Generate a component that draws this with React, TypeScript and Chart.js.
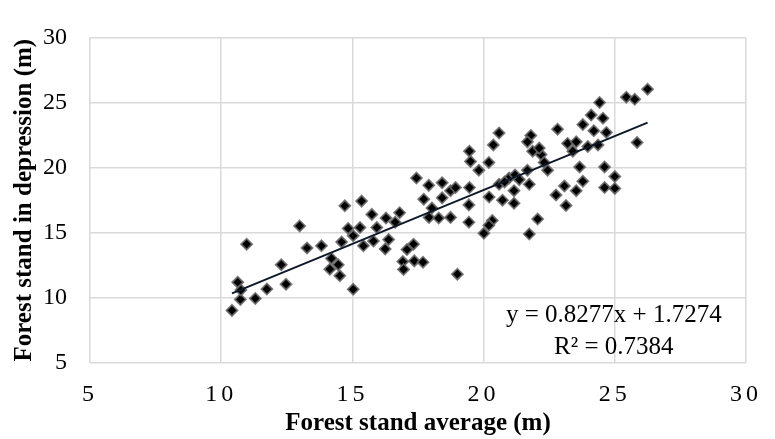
import React, { useEffect, useRef } from "react";
import { Chart, registerables } from "chart.js";

Chart.register(...registerables);

// Forest stand average height (m) — x values
const standAverage: number[] = [
  10.41, 10.63, 10.73, 10.75, 10.97, 11.3, 11.74, 12.29, 12.47, 12.99,
  13.27, 13.82, 14.59, 14.2, 14.46, 14.52, 14.14, 15.03, 14.71, 15.35,
  14.84, 15.29, 15.42, 15.74, 15.93, 15.8, 16.28, 16.38, 16.25, 16.63,
  16.8, 17.33, 17.08, 16.92, 16.95, 17.36, 17.69, 17.44, 17.91, 18.42,
  17.72, 18.03, 18.42, 17.92, 18.29, 18.74, 18.74, 19.0, 20.59, 20.37,
  19.46, 19.5, 19.82, 20.2, 18.93, 19.46, 19.44, 19.44, 20.21, 20.59,
  20.72, 21.16, 21.16, 20.97, 21.2, 21.67, 21.74, 20.33, 20.01, 20.2,
  21.74, 21.8, 21.87, 25.44, 25.76, 26.25, 25.85, 24.42, 24.1, 24.55,
  23.78, 24.2, 24.68, 22.82, 21.67, 22.19, 23.2, 23.53, 23.4, 23.97,
  24.36, 22.31, 22.44, 23.66, 24.61, 25.0, 23.78, 23.08, 22.76, 23.53,
  24.61, 25.0, 23.14, 22.06, 22.12, 21.36, 20.8, 15.03,
];

// Forest stand in depression height (m) — y values
const standDepression: number[] = [
  9.04, 11.2, 9.88, 10.6, 14.12, 9.96, 10.68, 12.55, 11.05, 15.52,
  13.83, 14.0, 14.29, 13.03, 12.55, 11.7, 12.2, 10.66, 17.07, 17.43,
  15.33, 15.4, 14.0, 16.41, 15.4, 14.36, 16.13, 14.48, 13.76, 15.81,
  16.54, 14.12, 13.71, 12.79, 12.18, 12.84, 12.74, 19.2, 18.64, 18.84,
  17.58, 16.9, 17.68, 16.18, 16.13, 16.18, 18.23, 11.82, 22.66, 21.74,
  21.26, 20.48, 19.8, 20.4, 18.47, 18.47, 17.14, 15.81, 17.75, 18.72,
  17.5, 18.23, 17.26, 19.2, 19.44, 19.8, 18.72, 15.94, 14.96, 15.57,
  14.9, 22.47, 21.26, 25.41, 25.25, 26.02, 21.93, 25.0, 24.04, 23.8,
  23.31, 22.83, 22.7, 22.95, 21.98, 21.0, 21.86, 21.98, 21.26, 21.62,
  21.74, 20.4, 19.8, 20.05, 20.05, 19.32, 18.95, 18.59, 17.9, 18.23,
  18.47, 18.4, 17.09, 16.05, 21.5, 19.08, 18.9, 14.77,
];

const trendSlope = 0.8277;
const trendIntercept = 1.7274;
const rSquared = 0.7384;

const axisMin = 5;
const axisMax = 30;
const axisStep = 5;

const xTitle = "Forest stand average (m)";
const yTitle = "Forest stand in depression (m)";
const equationLines = [
  `y = ${trendSlope}x + ${trendIntercept}`,
  `R² = ${rSquared}`,
];

const SERIF = "'Liberation Serif', 'Times New Roman', serif";

export default function App() {
  const canvasRef = useRef<HTMLCanvasElement | null>(null);

  useEffect(() => {
    document.body.style.margin = "0";
    const canvas = canvasRef.current;
    if (!canvas) return;

    const points = standAverage.map((x, i) => ({ x, y: standDepression[i] }));
    const xMin = Math.min(...standAverage);
    const xMax = Math.max(...standAverage);
    const trend = [xMin, xMax].map((x) => ({ x, y: trendSlope * x + trendIntercept }));

    const spacedTicks = {
      id: "spacedTicks",
      afterLayout(chart: any) {
        const s: any = chart.scales.x;
        if (!s || s._spaced) return;
        const orig = s.drawLabels.bind(s);
        s.drawLabels = (area: any) => {
          const ctx: any = chart.ctx;
          ctx.save();
          ctx.letterSpacing = "4px";
          orig(area);
          ctx.restore();
        };
        s._spaced = true;
      },
    };

    const equationLabel = {
      id: "equationLabel",
      afterDatasetsDraw(chart: any) {
        const { ctx, chartArea, scales } = chart;
        const cx = scales.x.getPixelForValue(25) - 1;
        ctx.save();
        ctx.fillStyle = "#000";
        ctx.font = `25px ${SERIF}`;
        ctx.textAlign = "center";
        ctx.textBaseline = "middle";
        ctx.fillText(equationLines[0], cx, chartArea.bottom - 48);
        ctx.fillText(equationLines[1], cx, chartArea.bottom - 16);
        ctx.restore();
      },
    };

    const chart = new Chart(canvas, {
      type: "scatter",
      data: {
        datasets: [
          {
            type: "line",
            label: "Linear trend",
            data: trend,
            borderColor: "#101828",
            borderWidth: 2,
            pointRadius: 0,
            fill: false,
            order: 0,
          } as any,
          {
            label: "Forest stand",
            data: points,
            pointStyle: "rectRot",
            pointRadius: 5.5,
            backgroundColor: "#000",
            borderColor: "rgba(105,105,105,0.85)",
            borderWidth: 1.8,
            order: 1,
          },
        ],
      },
      options: {
        responsive: false,
        animation: false,
        layout: { padding: { left: 0, right: 26, top: 20, bottom: 0 } },
        plugins: {
          legend: { display: false },
          tooltip: { enabled: false },
        },
        scales: {
          x: {
            type: "linear",
            min: axisMin,
            max: axisMax,
            afterFit: (s: any) => {
              s.height = 76;
            },
            ticks: {
              stepSize: axisStep,
              padding: 17,
              color: "#000",
              font: { family: SERIF, size: 24 },
            },
            grid: { color: "#d9d9d9", lineWidth: 1.5, drawTicks: false },
            border: { display: false },
            title: {
              display: true,
              text: xTitle,
              color: "#000",
              font: { family: SERIF, size: 25, weight: "bold" },
              padding: { top: 0, bottom: 0 },
            },
          },
          y: {
            type: "linear",
            min: axisMin,
            max: axisMax,
            afterFit: (s: any) => {
              s.width = 90;
            },
            ticks: {
              stepSize: axisStep,
              padding: 23,
              color: "#000",
              font: { family: SERIF, size: 24 },
            },
            grid: { color: "#d9d9d9", lineWidth: 1.5, drawTicks: false },
            border: { display: false },
            title: {
              display: true,
              text: yTitle,
              color: "#000",
              font: { family: SERIF, size: 25, weight: "bold" },
              padding: { top: 10, bottom: 0 },
            },
          },
        },
      },
      plugins: [spacedTicks, equationLabel],
    });

    return () => {
      chart.destroy();
    };
  }, []);

  return (
    <div style={{ width: 775, height: 439, background: "#fff" }}>
      <canvas ref={canvasRef} width={775} height={439} />
    </div>
  );
}
